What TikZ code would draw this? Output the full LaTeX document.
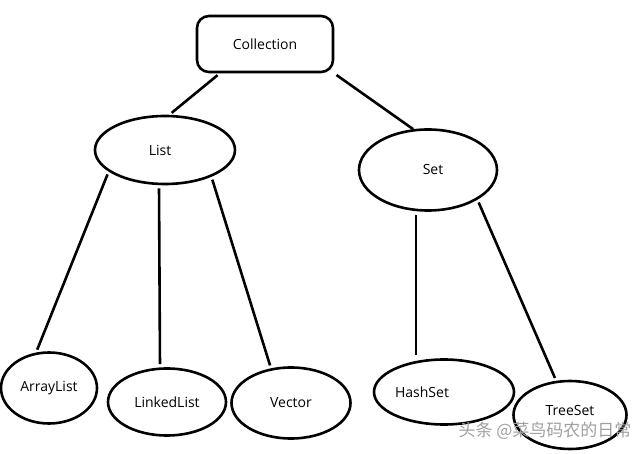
\documentclass[tikz,border=0pt]{standalone}
\usepackage{fontspec}
\setmainfont{Open Sans}
\newfontfamily\cjk{Noto Sans CJK SC}
\usetikzlibrary{shapes.geometric}
\tikzset{
  box/.style={draw,rounded corners=12pt,line width=2.6pt,minimum width=136pt,minimum height=56pt},
  oval/.style={draw,ellipse,line width=2.6pt,inner sep=0pt},
  link/.style={line width=2.6pt,shorten <=3pt,shorten >=3pt}
}

\begin{document}
\begin{tikzpicture}[x=1pt,y=-1pt,font=\fontsize{14}{16}\selectfont]
\useasboundingbox (0,0) rectangle (640,454);
% top of the tree
\node[box] (coll) at (265,44) {Collection};
\node[oval,minimum width=140pt,minimum height=68pt,label={[xshift=-5pt]center:List}] (list) at (165,150) {};
\node[oval,minimum width=138pt,minimum height=81pt,label={[xshift=5pt]center:Set}] (set) at (428,170) {};
% leaves
\node[oval,minimum width=96pt,minimum height=71pt,label={center:ArrayList}] (al) at (49,388) {};
\node[oval,minimum width=118pt,minimum height=67pt,label={center:LinkedList}] (ll) at (167,402) {};
\node[oval,minimum width=119pt,minimum height=71pt,label={center:Vector}] (vec) at (291,403) {};
\node[oval,minimum width=140pt,minimum height=65pt,label={[xshift=-22pt]center:HashSet}] (hs) at (444,392) {};
\node[oval,minimum width=113pt,minimum height=68pt,label={[yshift=5pt]center:TreeSet}] (ts) at (570,415) {};
\draw[link] (coll.213) -- (list.83);
\draw[link,shorten >=0pt] (coll.337) -- (set.110);
\draw[link] (list.201) -- (al.110);
\draw[link] ([xshift=-6pt]list.south) -- ([xshift=-7pt]ll.north);
\draw[link] (list.330) -- (vec.120);
\draw[link] ([xshift=-12pt]set.south) -- ([xshift=-28pt]hs.north);
\draw[link] (set.329) -- (ts.112);
\node[font=\cjk\fontsize{17}{19}\selectfont,text=gray!75] (mark) at (545,431) {头条 @菜鸟码农的日常};
\end{tikzpicture}
\end{document}
